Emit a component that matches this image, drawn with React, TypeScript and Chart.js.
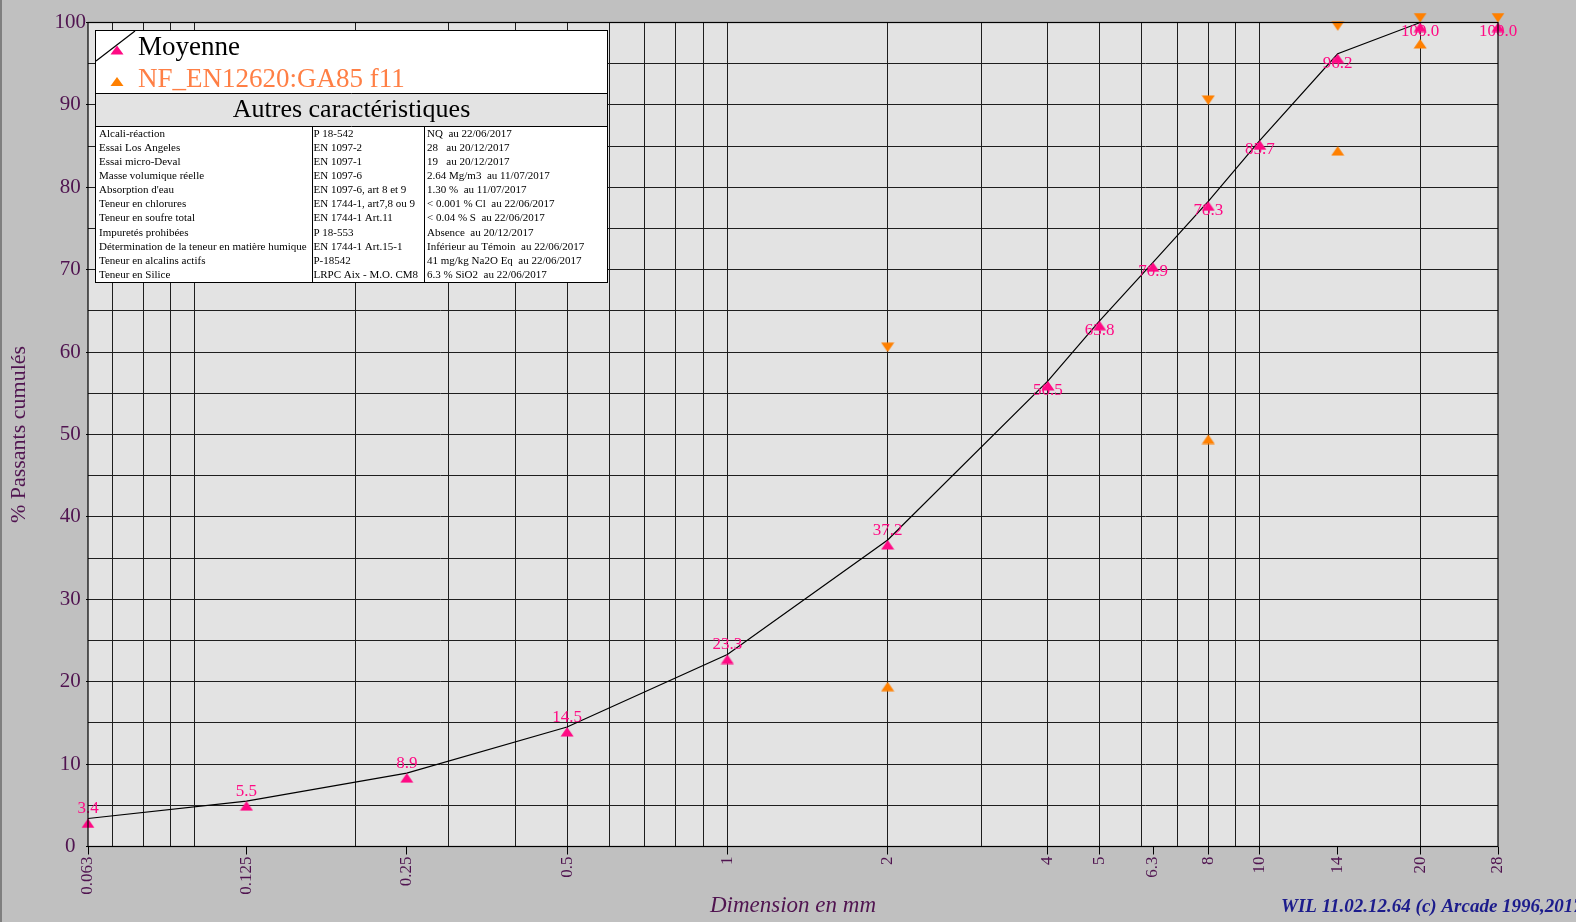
import React, { useEffect, useRef } from 'react';
import { Chart, registerables } from 'chart.js';

Chart.register(...registerables);

// ---------- data ----------
const sieveSizes = [0.063, 0.125, 0.25, 0.5, 1, 2, 4, 5, 6.3, 8, 10, 14, 20, 28];
const xTickLabels = ['0.063', '0.125', '0.25', '0.5', '1', '2', '4', '5', '6.3', '8', '10', '14', '20', '28'];
const moyenneValues = [3.4, 5.5, 8.9, 14.5, 23.3, 37.2, 56.5, 63.8, 70.9, 78.3, 85.7, 96.2, 100.0, 100.0];
const fuseauUpperSizes = [2, 8, 14, 20, 28];
const fuseauUpperValues = [60, 90, 99, 100, 100];
const fuseauLowerSizes = [2, 8, 14, 20];
const fuseauLowerValues = [20, 50, 85, 98];
const gridSizes = [0.07, 0.08, 0.09, 0.1, 0.2, 0.3, 0.4, 0.5, 0.6, 0.7, 0.8, 0.9, 1, 2, 3, 4, 5, 6, 7, 8, 9, 10, 20];
const xMin = 0.063;
const xMax = 28;
const yMin = 0;
const yMax = 100;
const yGridStep = 5;
const yLabelStep = 10;

const seriesNames = ['Moyenne', 'NF_EN12620:GA85 f11', 'NF_EN12620:GA85 f11 (min)'];
const tableTitle = 'Autres caractéristiques';
const tableRows: string[][] = [
  ['Alcali-réaction', 'P 18-542', 'NQ  au 22/06/2017'],
  ['Essai Los Angeles', 'EN 1097-2', '28   au 20/12/2017'],
  ['Essai micro-Deval', 'EN 1097-1', '19   au 20/12/2017'],
  ['Masse volumique réelle', 'EN 1097-6', '2.64 Mg/m3  au 11/07/2017'],
  ["Absorption d'eau", 'EN 1097-6, art 8 et 9', '1.30 %  au 11/07/2017'],
  ['Teneur en chlorures', 'EN 1744-1, art7,8 ou 9', '< 0.001 % Cl  au 22/06/2017'],
  ['Teneur en soufre total', 'EN 1744-1 Art.11', '< 0.04 % S  au 22/06/2017'],
  ['Impuretés prohibées', 'P 18-553', 'Absence  au 20/12/2017'],
  ['Détermination de la teneur en matière humique', 'EN 1744-1 Art.15-1', 'Inférieur au Témoin  au 22/06/2017'],
  ['Teneur en alcalins actifs', 'P-18542', '41 mg/kg Na2O Eq  au 22/06/2017'],
  ['Teneur en Silice', 'LRPC Aix - M.O. CM8', '6.3 % SiO2  au 22/06/2017'],
];
const xTitle = 'Dimension en mm';
const yTitle = '% Passants cumulés';
const footerText = 'WIL 11.02.12.64 (c) Arcade 1996,2017';

// ---------- styles ----------
const FONT = '"Liberation Serif", "Times New Roman", serif';
const PURPLE = '#501450';
const GRID = '#1e1e1e';
const PINK = '#ff0a84';
const ORANGE = '#ff8000';
const LEGEND_ORANGE = '#ff7f45';

function makeTri(color: string, up: boolean): HTMLCanvasElement {
  const c = document.createElement('canvas');
  c.width = 14;
  c.height = 20;
  const g = c.getContext('2d')!;
  g.fillStyle = color;
  g.beginPath();
  if (up) {
    g.moveTo(7, 10);
    g.lineTo(13.5, 19.5);
    g.lineTo(0.5, 19.5);
  } else {
    g.moveTo(7, 10);
    g.lineTo(13.5, 0.5);
    g.lineTo(0.5, 0.5);
  }
  g.closePath();
  g.fill();
  return c;
}

function tri(ctx: CanvasRenderingContext2D, cx: number, cy: number, color: string) {
  ctx.fillStyle = color;
  ctx.beginPath();
  ctx.moveTo(cx, cy - 4.5);
  ctx.lineTo(cx + 6.5, cy + 4.5);
  ctx.lineTo(cx - 6.5, cy + 4.5);
  ctx.closePath();
  ctx.fill();
}

const backgroundPlugin = {
  id: 'bgPlugin',
  beforeDraw(chart: any) {
    const { ctx, chartArea: a, width, height } = chart;
    ctx.save();
    ctx.fillStyle = '#c0c0c0';
    ctx.fillRect(0, 0, width, height);
    ctx.fillStyle = '#7f7f7f';
    ctx.fillRect(0, 0, 2, height);
    ctx.fillStyle = '#e3e3e3';
    ctx.fillRect(a.left, a.top, a.right - a.left, a.bottom - a.top);
    ctx.restore();
  },
};

const labelPlugin = {
  id: 'labelPlugin',
  afterDatasetsDraw(chart: any) {
    const { ctx } = chart;
    const meta = chart.getDatasetMeta(0);
    ctx.save();
    ctx.font = `17px ${FONT}`;
    ctx.fillStyle = PINK;
    ctx.textAlign = 'center';
    ctx.textBaseline = 'middle';
    meta.data.forEach((pt: any, i: number) => {
      const v = moyenneValues[i];
      const dy = v < 50 ? -9.5 : 9.5;
      ctx.fillText(v.toFixed(1), pt.x, pt.y + dy);
    });
    ctx.restore();
  },
};

const framePlugin = {
  id: 'framePlugin',
  afterDraw(chart: any) {
    const { ctx, chartArea: a } = chart;
    ctx.save();
    // plot border
    ctx.strokeStyle = '#000';
    ctx.lineWidth = 1.2;
    ctx.strokeRect(a.left, a.top, a.right - a.left, a.bottom - a.top);

    // legend + table box
    const L = 95, R = 608, T = 30, H1 = 93.5, H2 = 126, B = 283;
    const C1 = 312.5, C2 = 424.5;
    ctx.fillStyle = '#ffffff';
    ctx.fillRect(L, T, R - L, H1 - T);
    ctx.fillStyle = '#e3e3e3';
    ctx.fillRect(L, H1, R - L, H2 - H1);
    ctx.fillStyle = '#ffffff';
    ctx.fillRect(L, H2, R - L, B - H2);
    ctx.strokeStyle = '#000';
    ctx.lineWidth = 1;
    ctx.strokeRect(L + 0.5, T + 0.5, R - L - 1, B - T - 1);
    ctx.beginPath();
    ctx.moveTo(L, H1);
    ctx.lineTo(R, H1);
    ctx.moveTo(L, H2 + 0.5);
    ctx.lineTo(R, H2 + 0.5);
    ctx.moveTo(C1, H2);
    ctx.lineTo(C1, B);
    ctx.moveTo(C2, H2);
    ctx.lineTo(C2, B);
    ctx.stroke();

    // legend entries
    const ds = chart.data.datasets;
    ctx.beginPath();
    ctx.lineWidth = 1.2;
    ctx.moveTo(L + 1, 61);
    ctx.lineTo(135, T + 1);
    ctx.stroke();
    tri(ctx, 117, 50, PINK);
    tri(ctx, 117, 81.5, ORANGE);
    ctx.textAlign = 'left';
    ctx.textBaseline = 'alphabetic';
    ctx.font = `27px ${FONT}`;
    ctx.fillStyle = '#000';
    ctx.fillText(ds[0].label, 138, 55);
    ctx.fillStyle = LEGEND_ORANGE;
    ctx.fillText(ds[1].label, 138, 86.5);

    // header
    ctx.font = `26px ${FONT}`;
    ctx.fillStyle = '#000';
    ctx.textAlign = 'center';
    ctx.fillText(tableTitle, (L + R) / 2, 117);

    // rows
    ctx.font = `11px ${FONT}`;
    ctx.textAlign = 'left';
    tableRows.forEach((row, i) => {
      const y = 136.5 + i * 14.16;
      ctx.fillText(row[0], L + 4, y);
      ctx.fillText(row[1], C1 + 1, y);
      ctx.fillText(row[2], C2 + 2.5, y);
    });

    // footer
    ctx.font = `italic bold 19px ${FONT}`;
    ctx.fillStyle = '#1c1c8c';
    ctx.textAlign = 'left';
    ctx.textBaseline = 'middle';
    ctx.fillText(footerText, 1281, 907);
    ctx.restore();
  },
};

export default function App() {
  const ref = useRef<HTMLCanvasElement>(null);

  useEffect(() => {
    const canvas = ref.current!;
    const pinkUp = makeTri(PINK, true);
    const orangeUp = makeTri(ORANGE, true);
    const orangeDown = makeTri(ORANGE, false);

    const chart = new Chart(canvas, {
      type: 'scatter',
      data: {
        datasets: [
          {
            label: seriesNames[0],
            data: sieveSizes.map((x, i) => ({ x, y: moyenneValues[i] })),
            showLine: true,
            borderColor: '#000',
            borderWidth: 1.2,
            backgroundColor: PINK,
            pointStyle: pinkUp as any,
            pointRadius: 6,
            clip: false as any,
          },
          {
            label: seriesNames[1],
            data: fuseauUpperSizes.map((x, i) => ({ x, y: fuseauUpperValues[i] })),
            showLine: false,
            pointStyle: orangeDown as any,
            pointRadius: 6,
            clip: false as any,
          },
          {
            label: seriesNames[2],
            data: fuseauLowerSizes.map((x, i) => ({ x, y: fuseauLowerValues[i] })),
            showLine: false,
            pointStyle: orangeUp as any,
            pointRadius: 6,
            clip: false as any,
          },
        ],
      },
      options: {
        responsive: false,
        animation: false,
        events: [],
        layout: { padding: { top: 22.5, right: 78, left: 0, bottom: 0 } },
        plugins: {
          legend: { display: false },
          tooltip: { enabled: false },
          title: { display: false },
        },
        scales: {
          x: {
            type: 'logarithmic',
            position: 'bottom',
            min: xMin,
            max: xMax,
            afterBuildTicks: (s: any) => {
              s.ticks = sieveSizes.map((v) => ({ value: v }));
            },
            afterFit: (s: any) => {
              s.height = 75.5;
            },
            ticks: {
              autoSkip: false,
              minRotation: 90,
              maxRotation: 90,
              padding: 2,
              color: PURPLE,
              font: { family: FONT, size: 17 },
              callback: (_v: any, i: number) => xTickLabels[i],
            },
            grid: { drawOnChartArea: false, drawTicks: true, tickLength: 8, tickColor: '#000', tickWidth: 1 },
            border: { display: false },
            title: {
              display: true,
              text: xTitle,
              color: PURPLE,
              font: { family: FONT, size: 23, style: 'italic' },
              padding: { top: 0, bottom: 2 },
            },
          } as any,
          xGrid: {
            type: 'logarithmic',
            axis: 'x',
            position: 'top',
            min: xMin,
            max: xMax,
            afterBuildTicks: (s: any) => {
              s.ticks = gridSizes.map((v) => ({ value: v }));
            },
            afterFit: (s: any) => {
              s.height = 0;
            },
            ticks: { display: false },
            grid: { drawTicks: false, color: GRID, lineWidth: 1 },
            border: { display: false },
          } as any,
          y: {
            type: 'linear',
            min: yMin,
            max: yMax,
            afterFit: (s: any) => {
              s.width = 88;
            },
            ticks: {
              stepSize: yGridStep,
              autoSkip: false,
              crossAlign: 'center',
              padding: 0,
              color: PURPLE,
              font: { family: FONT, size: 21 },
              callback: (v: any) => (Number(v) % yLabelStep === 0 ? String(v) : ''),
            },
            grid: {
              color: GRID,
              lineWidth: 1,
              tickLength: 2,
              tickColor: (c: any) => (c.tick && c.tick.value % yLabelStep === 0 ? '#000' : 'rgba(0,0,0,0)'),
            },
            border: { display: false },
            title: {
              display: true,
              text: yTitle,
              color: PURPLE,
              font: { family: FONT, size: 22 },
              padding: { top: 6, bottom: 0 },
            },
          } as any,
        },
      },
      plugins: [backgroundPlugin, labelPlugin, framePlugin],
    });

    return () => chart.destroy();
  }, []);

  return (
    <div style={{ position: 'fixed', left: 0, top: 0, width: 1576, height: 922, background: '#c0c0c0', overflow: 'hidden' }}>
      <canvas ref={ref} width={1576} height={922} style={{ display: 'block', width: 1576, height: 922 }} />
    </div>
  );
}
